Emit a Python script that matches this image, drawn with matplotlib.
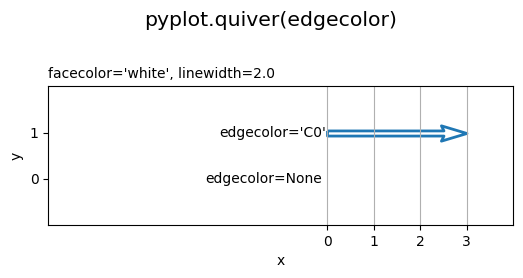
import matplotlib
matplotlib.use('Agg')
import matplotlib.pyplot as plt

# arrow data
x0 = [0, 0]
y0 = [1, 0]
u = [3, 3]
v = [0, 0]
labels = ["edgecolor='C0'", "edgecolor=None"]
edgecolors = ['C0', None]
label_offsets = [0.02, 0.1]

fig = plt.figure(figsize=(5.23, 2.78), dpi=100)
fig.suptitle('pyplot.quiver(edgecolor)', fontsize=14.7, x=0.518, y=0.96)
ax = fig.add_axes([0.092, 0.19, 0.889, 0.5])

for xi, yi, ui, vi, lab, ec, off in zip(x0, y0, u, v, labels, edgecolors, label_offsets):
    ax.quiver([xi], [yi], [ui], [vi], angles='xy', scale_units='xy', scale=1,
              width=0.011, facecolor='white', edgecolor=ec, linewidth=2.0)
    ax.text(xi - off, yi, lab, ha='right', va='center')

ax.set_title("facecolor='white', linewidth=2.0", loc='left', fontsize=10)
ax.set_xlim(-6, 4)
ax.set_ylim(-1, 2)
ax.set_xticks([0, 1, 2, 3])
ax.set_yticks([0, 1])
ax.grid(True, axis='x')
ax.set_xlabel('x')
ax.set_ylabel('y')

fig.savefig('out.png')
